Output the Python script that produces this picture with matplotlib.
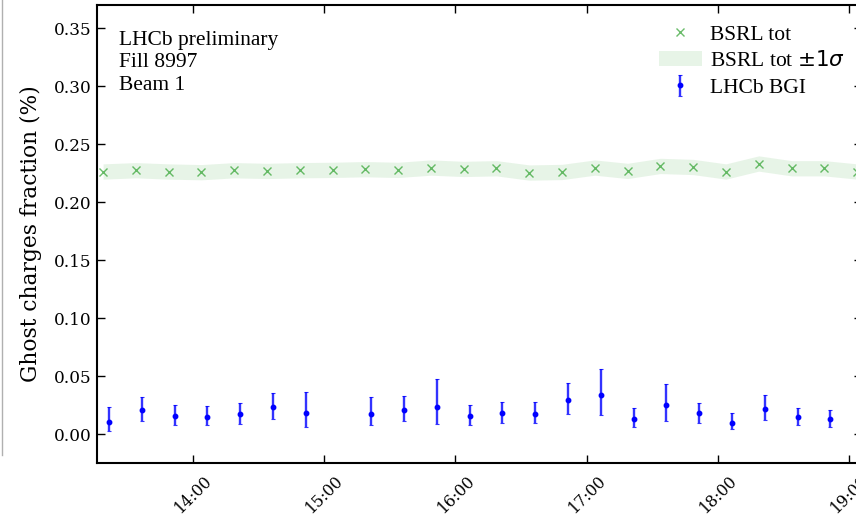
import matplotlib
matplotlib.use("Agg")
import matplotlib.pyplot as plt
import matplotlib.dates as mdates
from matplotlib.lines import Line2D
import pandas as pd
import numpy as np

DAY = "2023-07-08 "

# BSRL total ghost charge fraction (%)
bsrl_times = ["13:18:45", "13:33:45", "13:48:45", "14:03:45", "14:18:45", "14:33:45",
              "14:48:45", "15:03:45", "15:18:45", "15:33:45", "15:48:45", "16:03:45",
              "16:18:45", "16:33:45", "16:48:45", "17:03:45", "17:18:45", "17:33:45",
              "17:48:45", "18:03:45", "18:18:45", "18:33:45", "18:48:45", "19:03:45"]
bsrl_vals = [0.2264, 0.2275, 0.2264, 0.2258, 0.2275, 0.2269, 0.2275, 0.2278,
             0.2284, 0.2278, 0.2298, 0.2286, 0.2292, 0.2255, 0.2260, 0.2298,
             0.2269, 0.2312, 0.2303, 0.2264, 0.2333, 0.2292, 0.2292, 0.2264]
bsrl_sigma = [0.0066, 0.0066, 0.0066, 0.0066, 0.0066, 0.0066, 0.0066, 0.0066,
              0.0066, 0.0066, 0.0066, 0.0066, 0.0066, 0.0066, 0.0066, 0.0066,
              0.0066, 0.0066, 0.0066, 0.0066, 0.0066, 0.0066, 0.0066, 0.0066]

# LHCb BGI ghost charge fraction (%)
bgi_times = ["13:21:30", "13:36:30", "13:51:30", "14:06:30", "14:21:30", "14:36:30",
             "14:51:30", "15:21:30", "15:36:30", "15:51:30", "16:06:30", "16:21:30",
             "16:36:30", "16:51:30", "17:06:30", "17:21:30", "17:36:30", "17:51:30",
             "18:06:30", "18:21:30", "18:36:30", "18:51:30"]
bgi_vals = [0.0101, 0.0210, 0.0156, 0.0145, 0.0170, 0.0236, 0.0179, 0.0173,
            0.0208, 0.0236, 0.0153, 0.0179, 0.0176, 0.0297, 0.0335, 0.0130,
            0.0248, 0.0179, 0.0098, 0.0219, 0.0144, 0.0127]
bgi_err_up = [0.0135, 0.0110, 0.0098, 0.0095, 0.0098, 0.0119, 0.0182, 0.0144,
              0.0118, 0.0240, 0.0095, 0.0098, 0.0098, 0.0142, 0.0225, 0.0098,
              0.0187, 0.0089, 0.0081, 0.0118, 0.0084, 0.0078]
bgi_err_dn = [0.0075, 0.0095, 0.0076, 0.0070, 0.0081, 0.0103, 0.0116, 0.0098,
              0.0098, 0.0147, 0.0073, 0.0086, 0.0083, 0.0127, 0.0171, 0.0072,
              0.0133, 0.0081, 0.0057, 0.0098, 0.0064, 0.0066]

x_start = "13:15:50"
x_end = "19:06:00"
y_limits = (-0.025, 0.37)
y_ticks = [0.00, 0.05, 0.10, 0.15, 0.20, 0.25, 0.30, 0.35]

t_bsrl = pd.to_datetime([DAY + t for t in bsrl_times])
t_bgi = pd.to_datetime([DAY + t for t in bgi_times])
bv = np.array(bsrl_vals)
bs = np.array(bsrl_sigma)

plt.rcParams['font.family'] = ['DejaVu Serif']
plt.rcParams['mathtext.fontset'] = 'dejavusans'
TIMES = ['Liberation Serif', 'DejaVu Serif']

fig = plt.figure(figsize=(8.56, 5.18), dpi=100)
W, H = 856, 518
ax = fig.add_axes([96.7 / W, 1 - 463 / H, (862 - 96.7) / W, (463 - 5) / H])

ax.fill_between(t_bsrl, bv - bs, bv + bs, color='tab:green', alpha=0.11, lw=0,
                label=r'BSRL tot $\pm1\sigma$')
ax.plot(t_bsrl, bv, ls='none', marker='x', ms=6, mew=1.0, color='tab:green',
        alpha=0.7, label='BSRL tot')
ax.errorbar(t_bgi, bgi_vals, yerr=[bgi_err_dn, bgi_err_up], fmt='o', ms=3.2,
            color='blue', ecolor=(0, 0, 1, 0.8), elinewidth=1.7, capsize=1.3,
            capthick=0.8, label='LHCb BGI')

ax.set_xlim(pd.Timestamp(DAY + x_start), pd.Timestamp(DAY + x_end))
ax.set_ylim(*y_limits)
ax.set_yticks(y_ticks)
ax.yaxis.set_major_formatter(matplotlib.ticker.FormatStrFormatter('%.2f'))
ax.xaxis.set_major_locator(mdates.HourLocator())
ax.xaxis.set_major_formatter(mdates.DateFormatter('%H:%M'))
ax.tick_params(direction='in', length=6, width=1.0, labelsize=12.2,
               top=True, right=True)
ax.tick_params(axis='x', pad=7.0, labelsize=11.4)
for lab in ax.get_xticklabels():
    lab.set_rotation(45)
for s in ax.spines.values():
    s.set_linewidth(1.5)
ax.set_ylabel('Ghost charges fraction (%)', fontsize=15.7, labelpad=9)

ax.text(0.029, 0.943, 'LHCb preliminary\nFill 8997\nBeam 1', transform=ax.transAxes,
        ha='left', va='top', fontsize=15.5, family=TIMES, linespacing=1.24)

h, l = ax.get_legend_handles_labels()
order = [l.index('BSRL tot'), l.index(r'BSRL tot $\pm1\sigma$'), l.index('LHCb BGI')]
ax.legend([h[i] for i in order], [l[i] for i in order], loc='upper right',
          bbox_to_anchor=(0.995, 0.985), frameon=False, prop={'family': TIMES, 'size': 15.5},
          handletextpad=0.4, labelspacing=0.3, borderaxespad=0.2)

fig.add_artist(Line2D([1.5 / W, 1.5 / W], [1.0, 1 - 455 / H], transform=fig.transFigure,
                      color='#b0b0b0', lw=1.0))

fig.savefig('out.png', dpi=100)
